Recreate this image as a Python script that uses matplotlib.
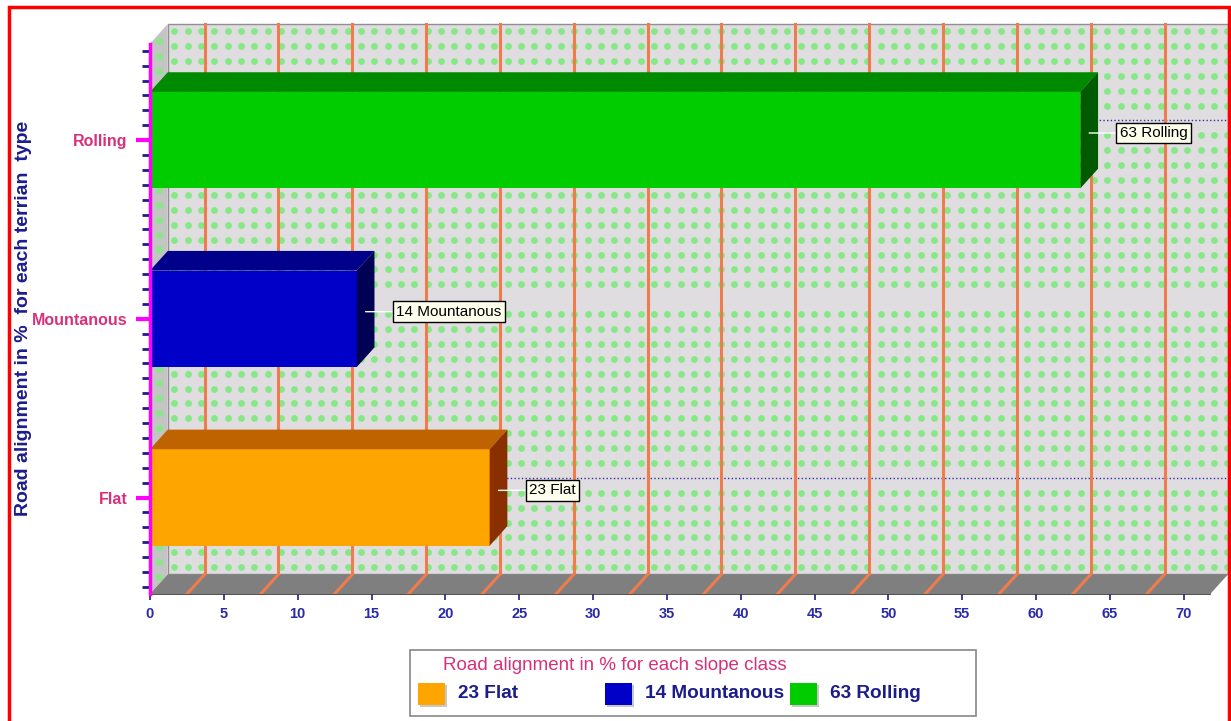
import numpy as np
import matplotlib.pyplot as plt
from matplotlib.patches import Polygon, Rectangle
from matplotlib.ticker import FixedLocator

plt.rcParams['font.family'] = ['Liberation Sans', 'DejaVu Sans']

# terrain classes and their share of road alignment (%)
categories = ['Flat', 'Mountanous', 'Rolling']
values = [23, 14, 63]
front_colors = ['#ffa500', '#0000c8', '#00cc00']
top_colors = ['#bf6200', '#00008a', '#008a00']
side_colors = ['#8a3000', '#000055', '#005a00']

x_ticks = list(range(0, 75, 5))
grid_x = [2.5 + 5 * k for k in range(14)]
y_title = 'Road alignment in %  for each terrian  type'
legend_title = 'Road alignment in % for each slope class'

W, H = 1231, 721
XMAX = 71.8          # front plane extent
DX, DY = 1.2, 0.11   # depth of the pseudo-3d box, in data units
Y0, Y1 = -0.54, 2.54
BAR_H = 0.54

WALL = '#e0dde0'
DOT = '#86e886'
GRID = '#f07c4c'
PINK = '#d8307a'
NAVY = '#1c1c8c'


def fpx(x, y):
    return x / W, 1 - y / H


fig = plt.figure(figsize=(W / 100, H / 100), dpi=100)
ax = fig.add_axes([150 / W, (H - 594) / H, 1078 / W, 570 / H])
ax.set_xlim(0, XMAX + DX)
ax.set_ylim(Y0, Y1 + DY)
ax.patch.set_visible(False)

# back wall
ax.add_patch(Rectangle((DX, Y0 + DY), XMAX, Y1 - Y0, fc=WALL, ec='#909090',
                       lw=1, zorder=0, clip_on=False))
rows = [i + DY + k / 12 for i in range(-1, 4) for k in range(-6, 6) if k != 0]
rows = [r for r in rows if Y0 + DY + 0.03 < r < Y1 + DY - 0.03]
cols = np.arange(DX + 0.45, XMAX + DX, 0.9025)
cx, cy = np.meshgrid(cols, rows)
ax.scatter(cx.ravel(), cy.ravel(), s=24, color=DOT, lw=0, zorder=1)
for i in (0, 2):
    ax.plot([DX, XMAX + DX], [i + DY, i + DY], ls=':', color='#3030a0',
            lw=1, zorder=2)
for gx in grid_x:
    ax.plot([gx + DX, gx + DX], [Y0 + DY, Y1 + DY], color=GRID, lw=2.2,
            zorder=2, clip_on=False)

# left wall and floor
ax.add_patch(Polygon([(0, Y0), (0, Y1), (DX, Y1 + DY), (DX, Y0 + DY)],
                     fc='#c4c4c4', ec='none', zorder=3))
ly = np.arange(-6, 31) / 12 + DY / 2
ax.scatter(np.full(len(ly), DX / 2), ly, s=24, color=DOT, lw=0, zorder=3)
ax.add_patch(Polygon([(0, Y0), (XMAX, Y0), (XMAX + DX, Y0 + DY), (DX, Y0 + DY)],
                     fc='#7f7f7f', ec='none', zorder=3))
for gx in grid_x:
    ax.plot([gx, gx + DX], [Y0, Y0 + DY], color=GRID, lw=2.2, zorder=3)

# bars
for i, (c, v) in enumerate(zip(categories, values)):
    lo, hi = i - BAR_H / 2, i + BAR_H / 2
    ax.barh(i, v, height=BAR_H, color=front_colors[i], zorder=5)
    ax.add_patch(Polygon([(0, hi), (v, hi), (v + DX, hi + DY), (DX, hi + DY)],
                         fc=top_colors[i], ec='none', zorder=5))
    ax.add_patch(Polygon([(v, lo), (v, hi), (v + DX, hi + DY), (v + DX, lo + DY)],
                         fc=side_colors[i], ec='none', zorder=5))
    ax.annotate(f'{v} {c}', xy=(v + DX / 2, i + 0.04), xytext=(22, 0),
                textcoords='offset points', ha='left', va='center',
                fontsize=11, color='black', zorder=7,
                bbox=dict(boxstyle='square,pad=0.22', fc='#ffffee', ec='black', lw=1),
                arrowprops=dict(arrowstyle='-', color='white', lw=1,
                                shrinkA=0, shrinkB=0))

# axes
for side in ('top', 'right'):
    ax.spines[side].set_visible(False)
ax.spines['left'].set_color('#ff00ff')
ax.spines['left'].set_linewidth(2.5)
ax.spines['left'].set_bounds(Y0, Y1)
ax.spines['left'].set_zorder(8)
ax.spines['bottom'].set_color('#333333')
ax.spines['bottom'].set_linewidth(1.2)
ax.spines['bottom'].set_bounds(0, XMAX)

ax.set_yticks(range(len(categories)))
ax.set_yticklabels(categories, color=PINK, fontweight='bold', fontsize=11.5)
ax.yaxis.set_minor_locator(FixedLocator(np.arange(-6, 31) / 12))
ax.tick_params(axis='y', which='major', length=10, width=3, color='#ff00ff', pad=6)
ax.tick_params(axis='y', which='minor', length=6, width=2, color=NAVY)

ax.set_xticks(x_ticks)
ax.tick_params(axis='x', length=4, width=1.2, color=NAVY, labelcolor='#2a2aa8',
               labelsize=10.5, pad=5)
for lbl in ax.get_xticklabels():
    lbl.set_fontweight('bold')

fig.text(*fpx(24, 318), y_title, rotation=90, ha='center', va='center',
         color=NAVY, fontweight='bold', fontsize=14)

# legend box
fig.add_artist(Rectangle(fpx(410, 716), 566 / W, 66 / H, transform=fig.transFigure,
                         fc='white', ec='#888888', lw=1.2))
fig.text(*fpx(443, 666), legend_title, color=PINK, fontsize=13.5,
         ha='left', va='center')
slots = [418, 605, 790]
for i, (c, v) in enumerate(zip(categories, values)):
    x0 = slots[i]
    fig.add_artist(Rectangle(fpx(x0 + 2, 707), 27 / W, 22 / H,
                             transform=fig.transFigure, fc='#c8c8c8', ec='none'))
    fig.add_artist(Rectangle(fpx(x0, 705), 27 / W, 22 / H,
                             transform=fig.transFigure, fc=front_colors[i], ec='none'))
    fig.text(*fpx(x0 + 40, 694), f'{v} {c}', color=NAVY, fontweight='bold',
             fontsize=13.7, ha='left', va='center')

# outer frame
fig.add_artist(Rectangle(fpx(9, 740), 1220 / W, 733 / H, transform=fig.transFigure,
                         fc='none', ec='red', lw=2.5))

fig.savefig('out.png', dpi=100)
